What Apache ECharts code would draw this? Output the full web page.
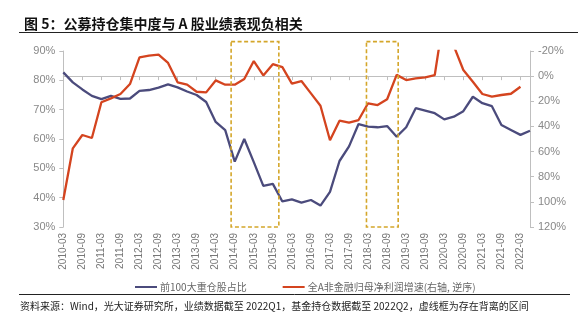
<!DOCTYPE html>
<html>
<head>
<meta charset="utf-8">
<script src="https://cdn.jsdelivr.net/npm/echarts@6/dist/echarts.min.js"></script>
<style>
html,body{margin:0;padding:0;background:#fff;}
#c{width:585px;height:334px;}
</style>
</head>
<body>
<div id="c"></div>
<script>
// Quarterly categories 2010-03 .. 2022-06
var categories = [];
(function(){
  var months = ['03','06','09','12'];
  for (var y = 2010; y <= 2022; y++) {
    for (var q = 0; q < 4; q++) {
      if (y === 2022 && q > 1) break;
      categories.push(y + '-' + months[q]);
    }
  }
})();

// 前100大重仓股占比 (left axis, %)
var top100Share = [82.7, 79.3, 76.9, 74.7, 73.6, 74.7, 73.7, 73.8, 76.4, 76.7,
  77.5, 78.6, 77.6, 76.2, 75.0, 72.6, 65.8, 63.0, 52.3, 60.0,
  52.1, 44.0, 44.7, 38.7, 39.4, 38.3, 39.2, 37.3, 42.0, 52.5,
  57.5, 65.1, 64.2, 64.0, 64.4, 60.8, 64.0, 70.5, 69.7, 68.8,
  66.7, 67.6, 69.5, 74.4, 72.2, 71.2, 64.8, 63.1, 61.4, 62.8];

// 全A非金融归母净利润增速 (right axis, inverted, %)
var profitGrowth = [98.5, 57.4, 46.8, 49.2, 20.8, 17.7, 14.2, 6.3, -15.0, -16.3,
  -17.1, -10.5, 4.9, 6.8, 12.4, 12.9, 3.4, 6.8, 6.8, 2.3,
  -12.0, -0.6, -9.5, -7.2, 6.0, 3.9, 13.7, 23.5, 51.0, 35.4,
  37.0, 34.9, 21.6, 23.0, 18.4, -1.0, 3.1, 1.7, 0.9, -0.9,
  -50.0, -24.0, -4.9, 4.4, 14.2, 16.3, 15.0, 14.0, 8.4, null];

// dashed divergence boxes: [start index, end index] (fractional category positions)
var boxStarts = [17.62, 31.83];
var boxEnds = [22.63, 35.16];

var leftTicks = {min: 30, max: 90, interval: 10};
var rightTicks = {min: -20, max: 120, interval: 20};

var seriesNames = ['前100大重仓股占比', '全A非金融归母净利润增速(右轴, 逆序)'];
var titleText = '图 5：公募持仓集中度与 A 股业绩表现负相关';
var sourceText = '资料来源：Wind，光大证券研究所，业绩数据截至 2022Q1，基金持仓数据截至 2022Q2，虚线框为存在背离的区间';

var boxData = boxStarts.map(function(s, i){ return [s, boxEnds[i], 93.2, 30]; });

var chart = echarts.init(document.getElementById('c'));
var FONT = '"Noto Sans CJK SC", "Noto Sans", sans-serif';
chart.setOption({
  animation: false,
  backgroundColor: '#fff',
  textStyle: {fontFamily: FONT},
  title: {
    text: titleText,
    left: 19, top: 12,
    textStyle: {fontSize: 14, fontWeight: 'bold', color: '#111', fontFamily: FONT}
  },
  legend: {
    data: seriesNames,
    left: 130, top: 277,
    icon: 'rect',
    itemWidth: 22, itemHeight: 2, itemGap: 36,
    textStyle: {fontSize: 10, color: '#666', fontFamily: FONT, padding: [0, 0, 0, -2]}
  },
  grid: {left: 63.3, right: 55, top: 51, bottom: 107, containLabel: false},
  xAxis: {
    type: 'category',
    data: categories,
    boundaryGap: false,
    axisLine: {lineStyle: {color: '#bfbfbf', width: 1}},
    axisTick: {interval: 1, length: 4, lineStyle: {color: '#bfbfbf'}},
    axisLabel: {interval: 1, rotate: 90, fontSize: 10, color: '#777', margin: 6, fontFamily: 'Liberation Sans, Arial, sans-serif'},
    splitLine: {show: false}
  },
  yAxis: [{
    type: 'value',
    min: leftTicks.min, max: leftTicks.max, interval: leftTicks.interval,
    axisLine: {show: true, lineStyle: {color: '#bfbfbf'}},
    axisTick: {show: true, length: 4, lineStyle: {color: '#bfbfbf'}},
    axisLabel: {formatter: '{value}%', fontSize: 11, color: '#888', margin: 8, fontFamily: 'Liberation Sans, Arial, sans-serif'},
    splitLine: {show: false}
  }, {
    type: 'value',
    position: 'right',
    inverse: true,
    min: rightTicks.min, max: rightTicks.max, interval: rightTicks.interval,
    axisLine: {show: true, lineStyle: {color: '#bfbfbf'}},
    axisTick: {show: true, length: 4, lineStyle: {color: '#bfbfbf'}},
    axisLabel: {formatter: '{value}%', fontSize: 11, color: '#888', margin: 8, fontFamily: 'Liberation Sans, Arial, sans-serif'},
    splitLine: {show: false}
  }],
  series: [{
    name: seriesNames[0],
    type: 'line',
    yAxisIndex: 0,
    data: top100Share,
    symbol: 'none',
    lineStyle: {color: '#4b4b7c', width: 2.3},
    itemStyle: {color: '#4b4b7c'},
    z: 3
  }, {
    name: seriesNames[1],
    type: 'line',
    yAxisIndex: 1,
    data: profitGrowth,
    symbol: 'none',
    clip: true,
    lineStyle: {color: '#d4441f', width: 2.3},
    itemStyle: {color: '#d4441f'},
    z: 3
  }, {
    type: 'custom',
    name: 'boxes',
    xAxisIndex: 0,
    yAxisIndex: 0,
    data: boxData,
    encode: {x: [0, 1], y: [2, 3]},
    clip: false,
    silent: true,
    z: 4,
    renderItem: function(params, api) {
      var s = api.value(0), e = api.value(1);
      var step = api.size([1, 0])[0];
      var fs = Math.floor(s), fe = Math.floor(e);
      var pTop = api.coord([fs, api.value(2)]);
      var pBot = api.coord([fs, api.value(3)]);
      var x1 = pTop[0] + (s - fs) * step;
      var x2 = api.coord([fe, api.value(3)])[0] + (e - fe) * step;
      return {
        type: 'rect',
        shape: {x: x1, y: pTop[1], width: x2 - x1, height: pBot[1] - pTop[1]},
        style: {fill: null, stroke: '#d4a62a', lineWidth: 1.6, lineDash: [4, 2.5]}
      };
    }
  }],
  graphic: [{
    type: 'line',
    shape: {x1: 19, y1: 32.5, x2: 578, y2: 32.5},
    style: {stroke: '#222', lineWidth: 1.2}
  }, {
    type: 'line',
    shape: {x1: 19, y1: 294.5, x2: 570, y2: 294.5},
    style: {stroke: '#222', lineWidth: 1}
  }, {
    type: 'text',
    left: 20, top: 301,
    style: {text: sourceText, fontSize: 10, fill: '#222', fontFamily: FONT}
  }]
});
</script>
</body>
</html>
